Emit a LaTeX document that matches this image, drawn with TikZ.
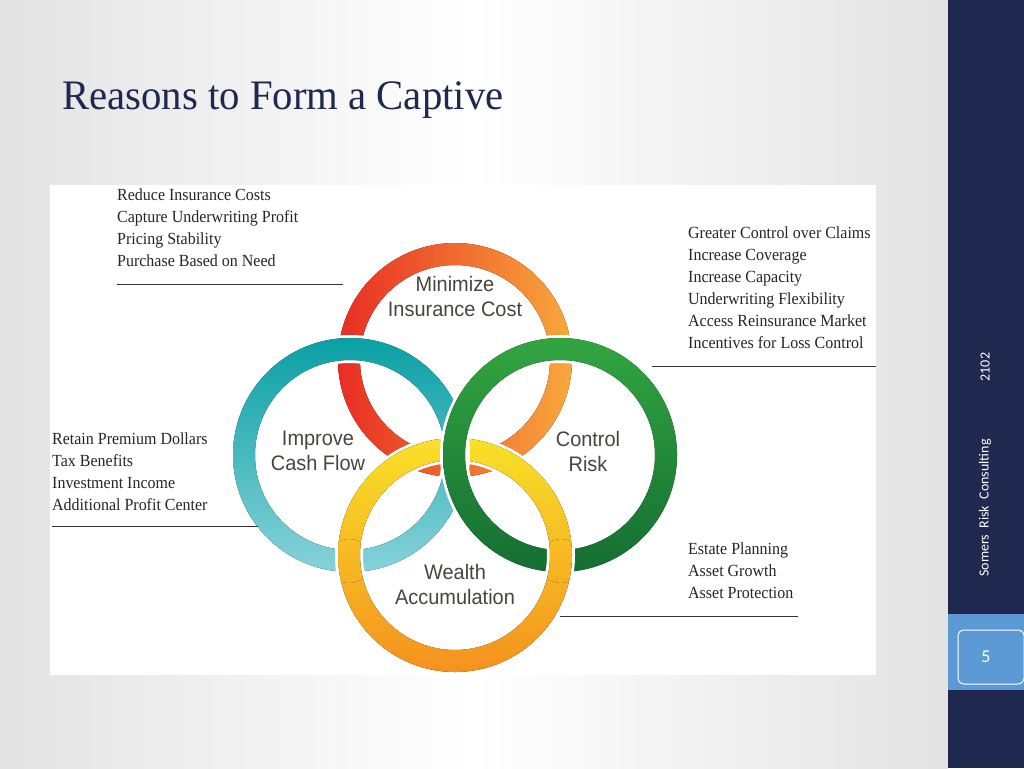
\documentclass[tikz,border=0pt]{standalone}
\usepackage{fontspec}
\setmainfont{Liberation Serif}
\newfontfamily\ringfont{Liberation Sans}
\newfontfamily\sidefont{Carlito}
\begin{document}
\begin{tikzpicture}[x=1pt,y=-1pt,
  lst/.style={anchor=north west,align=left,font=\fontsize{17}{22}\selectfont,text=black!85,inner sep=0pt,xscale=0.94},
  rl/.style={align=center,font=\ringfont\fontsize{21}{25}\selectfont,text={rgb,255:red,70;green,70;blue,60},xscale=0.95},
  rule/.style={draw=black!80,line width=0.8pt}]
\useasboundingbox (0,0) rectangle (1024,768);
\shade[shading=axis,shading angle=60,left color=gray!22,right color=gray!22,middle color=white] (0,0) rectangle (948,768);
\fill[white] (50,185) rectangle (876,675);
% sidebar
\fill[fill={rgb,255:red,31;green,40;blue,78}] (948,0) rectangle (1024,768);
\fill[fill={rgb,255:red,92;green,154;blue,214}] (948,614) rectangle (1024,690);
\draw[white,line width=1pt,rounded corners=6pt] (958,630) rectangle (1024,684);
\node[text=white,font=\sidefont\fontsize{18}{20}\selectfont] (pg) at (986,657) {5};
\node[rotate=90,text=white!85,font=\sidefont\fontsize{14}{16}\selectfont] (src) at (985,508) {Somers\ \ Risk\ \ Consulting};
\node[rotate=90,text=white!85,font=\sidefont\fontsize{14}{16}\selectfont] (yr) at (985,367) {2102};
% title
\node[anchor=west,text={rgb,255:red,31;green,40;blue,78},font=\fontsize{42}{46}\selectfont,xscale=0.97,inner sep=0pt] (title) at (62,100) {Reasons to Form a Captive};
% rings
\def\ro{117pt}\def\ri{95pt}
\tikzset{
  ringT/.style={left color={rgb,255:red,232;green,45;blue,35},right color={rgb,255:red,248;green,168;blue,60}},
  ringL/.style={top color={rgb,255:red,10;green,160;blue,165},bottom color={rgb,255:red,135;green,210;blue,218}},
  ringR/.style={top color={rgb,255:red,50;green,165;blue,65},bottom color={rgb,255:red,20;green,110;blue,50}},
  ringB/.style={top color={rgb,255:red,248;green,225;blue,40},bottom color={rgb,255:red,245;green,145;blue,30}}}
\def\ring#1#2{\fill[white,even odd rule] #1 circle (120pt) #1 circle (92pt);
  \fill[even odd rule,#2] #1 circle (\ro) #1 circle (\ri);}
\ring{(455,360)}{ringT}
\ring{(455,555)}{ringB}
\ring{(350,455)}{ringL}
\ring{(560,455)}{ringR}
\begin{scope}\clip (349,561) circle (22pt);\ring{(455,555)}{ringB}\end{scope}
\begin{scope}\clip (561,561) circle (22pt);\ring{(455,555)}{ringB}\end{scope}
\node[rl] (mic) at (455,296) {Minimize\\Insurance Cost};
\node[rl] (icf) at (318,451) {Improve\\Cash Flow};
\node[rl] (cr) at (588,451) {Control\\Risk};
\node[rl] (wa) at (455,584) {Wealth\\Accumulation};
% lists
\node[lst] (l1) at (117,189) {Reduce Insurance Costs\\Capture Underwriting Profit\\Pricing Stability\\Purchase Based on Need};
\draw[rule] (117,284) -- (343,284);
\node[lst] (l2) at (688,226) {Greater Control over Claims\\Increase Coverage\\Increase Capacity\\Underwriting Flexibility\\Access Reinsurance Market\\Incentives for Loss Control};
\draw[rule] (652,366) -- (876,366);
\node[lst] (l3) at (52,432) {Retain Premium Dollars\\Tax Benefits\\Investment Income\\Additional Profit Center};
\draw[rule] (52,526) -- (258,526);
\node[lst] (l4) at (688,542) {Estate Planning\\Asset Growth\\Asset Protection};
\draw[rule] (560,616) -- (798,616);
\end{tikzpicture}
\end{document}
